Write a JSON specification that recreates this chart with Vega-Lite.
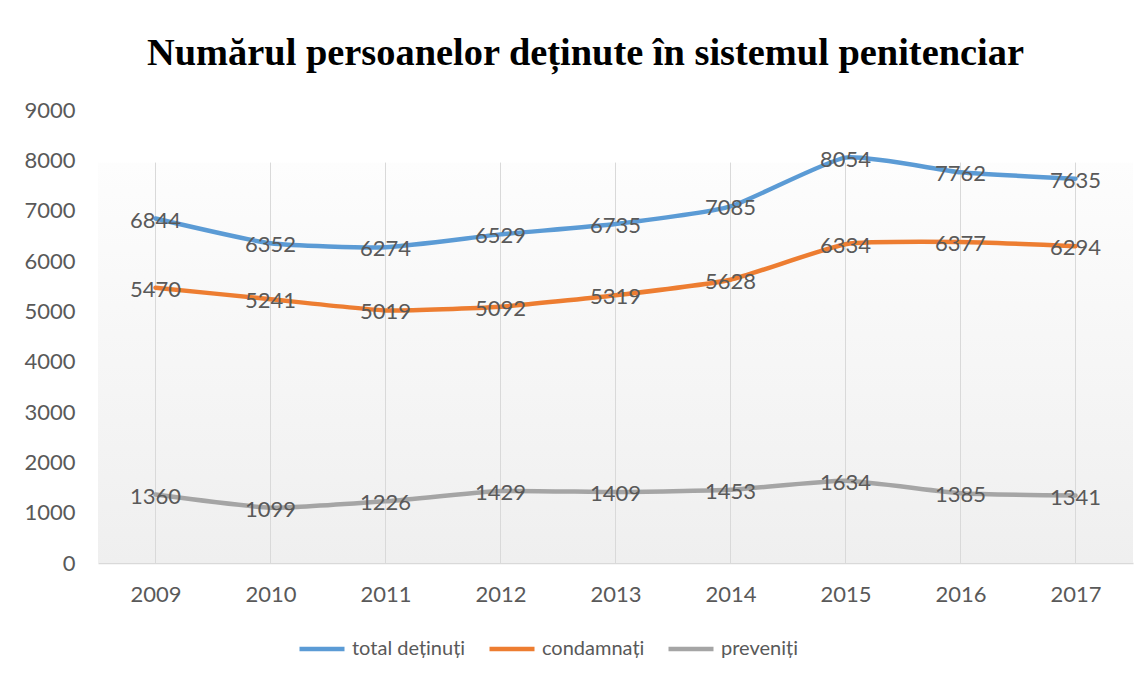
{
  "$schema": "https://vega.github.io/schema/vega-lite/v6.json",
  "autosize": {"type": "none"},
  "padding": {"left": 98, "top": 110, "right": 14, "bottom": 116},
  "width": 1035,
  "height": 453,
  "background": "#ffffff",
  "title": {
    "text": "Numărul persoanelor deținute în sistemul penitenciar",
    "font": "Liberation Serif",
    "fontSize": 38.4,
    "fontWeight": "bold",
    "color": "#000000",
    "anchor": "middle",
    "frame": "group",
    "baseline": "alphabetic",
    "offset": -4,
    "dx": -30
  },
  "data": {
    "values": [
      {"year": "2009", "series": "total deținuți", "value": 6844},
      {"year": "2010", "series": "total deținuți", "value": 6352},
      {"year": "2011", "series": "total deținuți", "value": 6274},
      {"year": "2012", "series": "total deținuți", "value": 6529},
      {"year": "2013", "series": "total deținuți", "value": 6735},
      {"year": "2014", "series": "total deținuți", "value": 7085},
      {"year": "2015", "series": "total deținuți", "value": 8054},
      {"year": "2016", "series": "total deținuți", "value": 7762},
      {"year": "2017", "series": "total deținuți", "value": 7635},
      {"year": "2009", "series": "condamnați", "value": 5470},
      {"year": "2010", "series": "condamnați", "value": 5241},
      {"year": "2011", "series": "condamnați", "value": 5019},
      {"year": "2012", "series": "condamnați", "value": 5092},
      {"year": "2013", "series": "condamnați", "value": 5319},
      {"year": "2014", "series": "condamnați", "value": 5628},
      {"year": "2015", "series": "condamnați", "value": 6334},
      {"year": "2016", "series": "condamnați", "value": 6377},
      {"year": "2017", "series": "condamnați", "value": 6294},
      {"year": "2009", "series": "preveniți", "value": 1360},
      {"year": "2010", "series": "preveniți", "value": 1099},
      {"year": "2011", "series": "preveniți", "value": 1226},
      {"year": "2012", "series": "preveniți", "value": 1429},
      {"year": "2013", "series": "preveniți", "value": 1409},
      {"year": "2014", "series": "preveniți", "value": 1453},
      {"year": "2015", "series": "preveniți", "value": 1634},
      {"year": "2016", "series": "preveniți", "value": 1385},
      {"year": "2017", "series": "preveniți", "value": 1341}
    ]
  },
  "layer": [
    {
      "data": {"values": [{"bottom": 0, "top": 7950}]},
      "mark": {
        "type": "rect",
        "color": {
          "gradient": "linear",
          "x1": 0, "y1": 0, "x2": 0, "y2": 1,
          "stops": [
            {"offset": 0, "color": "#fdfdfd"},
            {"offset": 1, "color": "#efefef"}
          ]
        }
      },
      "encoding": {
        "y": {"field": "bottom", "type": "quantitative"},
        "y2": {"field": "top"}
      }
    },
    {
      "mark": {"type": "rule", "color": "#d9d9d9", "strokeWidth": 1},
      "encoding": {
        "x": {"field": "year", "type": "ordinal"},
        "y": {"datum": 0, "type": "quantitative"},
        "y2": {"datum": 7950}
      }
    },
    {
      "mark": {"type": "line", "strokeWidth": 4.5, "interpolate": "cardinal", "tension": 0.5, "strokeCap": "round", "strokeJoin": "round"},
      "encoding": {
        "x": {
          "field": "year",
          "type": "ordinal",
          "scale": {"type": "point", "padding": 0.5},
          "axis": {
            "title": null,
            "labelAngle": 0,
            "labelAlign": "center",
            "grid": false,
            "ticks": false,
            "domainColor": "#d9d9d9",
            "domainWidth": 1.5,
            "labelFont": "Lato",
            "labelFontSize": 22,
            "labelColor": "#595959",
            "labelBaseline": "middle",
            "labelPadding": 31
          }
        },
        "y": {
          "field": "value",
          "type": "quantitative",
          "scale": {"domain": [0, 9000], "nice": false},
          "axis": {
            "title": null,
            "values": [0, 1000, 2000, 3000, 4000, 5000, 6000, 7000, 8000, 9000],
            "grid": false,
            "ticks": false,
            "domain": false,
            "labelFont": "Lato",
            "labelFontSize": 22,
            "labelColor": "#595959",
            "labelPadding": 23,
            "format": "d"
          }
        },
        "color": {
          "field": "series",
          "type": "nominal",
          "scale": {
            "domain": ["total deținuți", "condamnați", "preveniți"],
            "range": ["#5b9bd5", "#ed7d31", "#a5a5a5"]
          },
          "legend": {
            "title": null,
            "orient": "none",
            "direction": "horizontal",
            "legendX": 199,
            "legendY": 514,
            "symbolType": "stroke",
            "symbolSize": 2025,
            "symbolStrokeWidth": 4.5,
            "labelFont": "Lato",
            "labelFontSize": 20,
            "labelColor": "#595959",
            "labelOffset": 5,
            "columnPadding": 14,
            "labelLimit": 0
          }
        }
      }
    },
    {
      "mark": {"type": "text", "font": "Lato", "fontSize": 22, "color": "#595959", "baseline": "middle", "dy": 2},
      "encoding": {
        "x": {"field": "year", "type": "ordinal"},
        "y": {"field": "value", "type": "quantitative"},
        "text": {"field": "value", "type": "quantitative", "format": "d"}
      }
    }
  ],
  "config": {
    "view": {"stroke": null}
  }
}
